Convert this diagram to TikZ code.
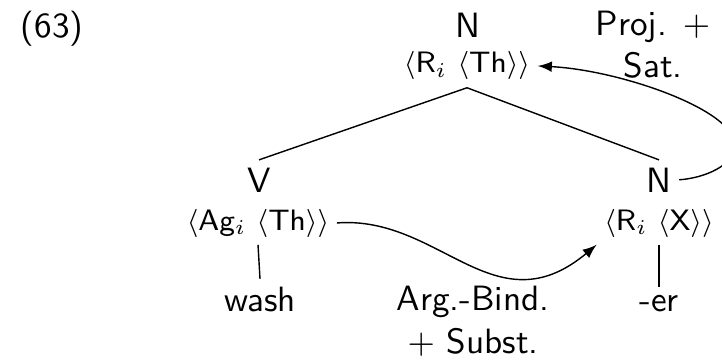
\documentclass[tikz,border=0pt]{standalone}
\usepackage{tikz}
\tikzset{
  font=\sffamily,
  cat/.style = {
    anchor=base,
    inner sep=2pt
  },
  feat/.style = {
    anchor=base,
    inner sep=2pt,
    font=\sffamily\fontsize{8.4}{10}\selectfont
  }
}

\begin{document}
\begin{tikzpicture}[x=0.01cm,y=-0.01cm]

      \useasboundingbox (0,0) rectangle (722,361);

      \node[cat] (ex) at (52,38) {(63)};

      \node[cat] (n0) at (468,38) {N};
      \node[feat] (f0) at (467,73) {$\langle$R$_i$ $\langle$Th$\rangle\rangle$};
      \node[cat, align=center] (ps) at (653,78) {Proj. $+$\\Sat.};

      \node[cat] (v) at (259,192) {V};
      \node[feat] (fv) at (258,230) {$\langle$Ag$_i$ $\langle$Th$\rangle\rangle$};
      \node[cat] (n1) at (659,192) {N};
      \node[feat] (fn) at (659,230) {$\langle$R$_i$ $\langle$X$\rangle\rangle$};

      \node[cat] (wash) at (260,311) {wash};
      \node[cat, align=center] (ab) at (473,353) {Arg.-Bind.\\$+$ Subst.};
      \node[cat] (er) at (659,311) {-er};

      \draw (f0.south) -- (v.north);
      \draw (f0.south) -- (n1.north);
      \draw (fv.south) -- (wash.north);
      \draw (fn.south) -- (er.north);

      \draw[-latex] (fv.east) .. controls (440,215) and (495,330) .. (fn.south west);
      \draw[-latex] (n1.east) .. controls (705,178) and (735,165) .. (735,145)
        .. controls (735,110) and (620,70) .. (f0.east);
    \end{tikzpicture}
\end{document}
